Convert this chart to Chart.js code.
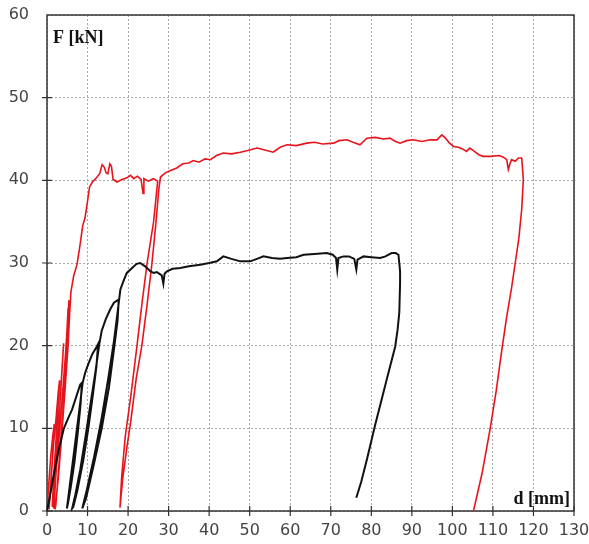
<!DOCTYPE html>
<html>
<head>
<meta charset="utf-8">
<script src="https://cdn.jsdelivr.net/npm/chart.js@4.4.0/dist/chart.umd.min.js"></script>
<style>
  body { margin: 0; background: #fff; }
</style>
</head>
<body>
<canvas id="chart" width="589" height="544"></canvas>
<script>
// --- Datos ---
const xTicks = [0, 10, 20, 30, 40, 50, 60, 70, 80, 90, 100, 110, 120, 130];
const yTicks = [0, 10, 20, 30, 40, 50, 60];

// curva roja: desplazamiento d [mm] y fuerza F [kN]
const redD = [
  0, 0.4, 0.9, 1.4, 1.8,
  1.2, 0.7, 0.5,
  1.0, 1.6, 2.2, 2.8, 3.1,
  2.4, 1.7, 1.3,
  1.9, 2.6, 3.2, 3.7, 4.1,
  3.3, 2.5, 1.8, 1.6,
  2.3, 3.0, 3.8, 4.5, 4.9, 5.2, 5.4,
  5.1, 4.7, 3.9, 3.0, 2.2, 2.0,
  2.8, 3.6, 4.5, 5.2, 5.6, 5.9, 6.6, 7.4, 8.1, 8.8, 9.4, 10, 10.5, 11.2, 12, 13, 13.6, 14.1, 14.6, 15.0, 15.5, 15.9, 16.3, 17.3, 18.5, 19.7, 20.6, 21.4, 22.3, 23.2, 23.7, 23.9, 25, 26.2, 27.3,
  26.3, 24.7, 23.4, 22.2, 20.7, 19.3, 18.4, 18.0,
  18.7, 19.8, 20.7, 22.0, 23.4, 24.7, 25.9, 26.9, 27.6, 28, 29.2, 30.5, 32, 33.5, 35, 36.1, 37.5, 39, 40.3, 41.8, 43.5, 45.5, 47.7, 49.5, 51.8, 53.5, 55.8, 57.5, 59.2, 61.5, 64.1, 66, 68, 70.7, 72, 74, 75.5, 77.2, 78.9, 81, 83, 84.6, 86, 87.1, 88.7, 90.4, 92.5, 94.5, 96.2, 97.4, 98.3, 99.3, 100.3, 101.5, 102.5, 103.5, 104.3, 105.2, 106.5, 107.6, 109.5, 111.5, 112.6, 113.4, 113.8, 114.2, 114.6, 115.5, 116.3, 117.1,
  117.5, 117.1, 116.4, 115.5, 114.6, 113.4, 112.2, 110.8, 109.3, 107.3, 105.2
];
const redF = [
  0, 3, 6.5, 9, 10.5,
  5, 1.5, 0.2,
  4, 8, 11, 14.5, 15.8,
  10, 4.5, 0.5,
  5, 9, 13, 17, 20.3,
  14, 7, 1, 0.3,
  5, 9, 14, 18.5, 21.5, 24.5, 25.5,
  22, 17.5, 12, 6, 0.8, 0.2,
  4, 9, 15, 20, 24, 26.5, 28.5, 29.8, 32, 34.5, 35.5, 37.5, 39.2, 39.8, 40.2, 40.8, 41.9, 41.6, 40.9, 40.8, 42, 41.7, 40.1, 39.8, 40.1, 40.3, 40.6, 40.2, 40.5, 40.1, 38.4, 40.2, 39.9, 40.2, 39.9,
  35, 30, 25, 20, 14, 9, 4, 0.4,
  4, 8, 11, 16, 20, 25, 30, 35, 39, 40.4, 40.9, 41.2, 41.5, 42, 42.1, 42.4, 42.2, 42.6, 42.5, 43, 43.3, 43.2, 43.4, 43.6, 43.9, 43.7, 43.4, 44, 44.3, 44.2, 44.5, 44.6, 44.4, 44.5, 44.8, 44.9, 44.6, 44.3, 45.1, 45.2, 45, 45.1, 44.7, 44.5, 44.8, 44.9, 44.7, 44.9, 44.9, 45.5, 45.1, 44.5, 44.1, 44, 43.8, 43.5, 43.9, 43.6, 43.1, 42.9, 42.9, 43, 42.8, 42.5, 41.3, 42, 42.5, 42.3, 42.7, 42.7,
  40.1, 36.5, 33, 30, 27, 23.5, 19.5, 14.5, 9.9, 4.5, 0
];

// curva negra
const blackD = [
  0, 0.8, 1.6, 2.8, 4.1, 5.2, 6.2, 7.2, 8.2, 8.6,
  8.3, 7.6, 6.8, 5.9, 5.2, 4.9,
  5.6, 6.5, 7.4, 8.3, 8.8, 9.4, 10.2, 11.2, 12.3, 12.6,
  12.2, 11.3, 10.2, 8.9, 7.5, 6.5, 6.2,
  7.0, 8.2, 9.5, 10.9, 12.0, 12.9, 13.5, 14.5, 15.6, 16.5, 17.7,
  17.4, 16.5, 15.3, 13.5, 11.5, 9.6, 8.7,
  9.8, 11.6, 13.4, 15.1, 16.5, 17.4, 18.1, 19.0, 19.7, 21, 22.1, 23, 24.2, 25.5, 26.3, 27.1, 28.3, 28.7, 29.0, 29.6, 31, 32.9, 35, 37.8, 40, 41.9, 43.5, 45.5, 47.7, 50.1, 51.8, 53.4, 55.5, 57.5, 59.2, 61.5, 63.3, 66, 69, 70.5, 71.3, 71.6, 71.9, 73.1, 74.5, 75.8, 76.3, 76.6, 78.1, 80, 82.2, 83.5, 85, 86, 86.7,
  87.1, 87.1, 86.9, 86.5, 85.9, 83.8, 82.3, 80.9, 78.9, 77.5, 76.3
];
const blackF = [
  0, 2, 4.2, 7.2, 9.9, 11.2, 12.3, 13.8, 15.3, 15.5,
  13, 9.5, 6, 3, 1, 0.3,
  3, 6.5, 10, 13.5, 15.5, 16.7, 17.8, 19, 19.9, 20.2,
  17.5, 14, 10, 6, 2.5, 0.5, 0.3,
  2, 5, 9, 13.5, 17, 20.2, 21.8, 23.2, 24.4, 25.2, 25.6,
  23, 19.5, 15, 10, 5.5, 1.5, 0.3,
  2.5, 6.5, 11, 16, 20.5, 24, 26.8, 28, 28.8, 29.4, 29.9, 30, 29.6, 29, 28.8, 28.9, 28.5, 27.5, 28.7, 29, 29.3, 29.4, 29.6, 29.8, 30, 30.2, 30.8, 30.5, 30.2, 30.2, 30.5, 30.8, 30.6, 30.5, 30.6, 30.7, 31, 31.1, 31.2, 31, 30.6, 29.2, 30.6, 30.8, 30.8, 30.5, 29.2, 30.4, 30.8, 30.7, 30.6, 30.8, 31.2, 31.2, 31,
  29, 27.6, 24, 22, 19.9, 15.9, 13, 10.3, 6.2, 3.5, 1.6
];

function puntos(xs, ys) {
  return xs.map((x, i) => ({ x: x, y: ys[i] }));
}

// --- Marco, marcas y rótulos de ejes ---
const marco = {
  id: "marco",
  beforeDatasetsDraw(chart) {
    const { ctx, chartArea: a, scales: { x, y } } = chart;
    ctx.save();
    ctx.strokeStyle = "#333";
    ctx.lineWidth = 1.5;
    ctx.strokeRect(a.left, a.top, a.right - a.left, a.bottom - a.top);
    ctx.lineWidth = 1.2;
    ctx.beginPath();
    x.ticks.forEach(t => {
      const px = x.getPixelForValue(t.value);
      ctx.moveTo(px, a.bottom - 5);
      ctx.lineTo(px, a.bottom + 5);
    });
    y.ticks.forEach(t => {
      if (t.value === 60) return;
      const py = y.getPixelForValue(t.value);
      ctx.moveTo(a.left - 5, py);
      ctx.lineTo(a.left + 5, py);
    });
    ctx.stroke();
    ctx.restore();
  },
  afterDraw(chart) {
    const { ctx, chartArea: a } = chart;
    ctx.save();
    ctx.fillStyle = "#111";
    ctx.font = "bold 18px 'Liberation Serif'";
    ctx.textBaseline = "alphabetic";
    ctx.textAlign = "left";
    ctx.fillText("F [kN]", a.left + 6, a.top + 28);
    ctx.textAlign = "right";
    ctx.fillText("d [mm]", a.right - 4, a.bottom - 7);
    ctx.restore();
  }
};

const ctx = document.getElementById("chart").getContext("2d");
new Chart(ctx, {
  type: "scatter",
  data: {
    datasets: [
      {
        label: "negra",
        data: puntos(blackD, blackF),
        showLine: true,
        borderColor: "#111",
        borderWidth: 2,
        pointRadius: 0,
        tension: 0
      },
      {
        label: "roja",
        data: puntos(redD, redF),
        showLine: true,
        borderColor: "#e8141c",
        borderWidth: 1.6,
        pointRadius: 0,
        tension: 0
      }
    ]
  },
  options: {
    responsive: false,
    animation: false,
    layout: { padding: { top: 15, right: 15, left: 0, bottom: 0 } },
    plugins: {
      legend: { display: false },
      tooltip: { enabled: false }
    },
    scales: {
      x: {
        type: "linear",
        min: 0,
        max: 130,
        afterFit: s => { s.height = 33; s.paddingLeft = 0; s.paddingRight = 0; },
        afterBuildTicks: s => { s.ticks = xTicks.map(v => ({ value: v })); },
        ticks: { padding: 10, color: "#444", font: { family: "DejaVu Sans", size: 16 }, maxRotation: 0 },
        grid: { color: "#a8a8a8", lineWidth: 1, drawTicks: false },
        border: { display: false, dash: [2, 2] }
      },
      y: {
        min: 0,
        max: 60,
        afterFit: s => { s.width = 47; s.paddingTop = 0; s.paddingBottom = 0; },
        afterBuildTicks: s => { s.ticks = yTicks.map(v => ({ value: v })); },
        ticks: { padding: 18, color: "#444", font: { family: "DejaVu Sans", size: 16 } },
        grid: { color: "#a8a8a8", lineWidth: 1, drawTicks: false },
        border: { display: false, dash: [2, 2] }
      }
    }
  },
  plugins: [marco]
});
</script>
</body>
</html>
